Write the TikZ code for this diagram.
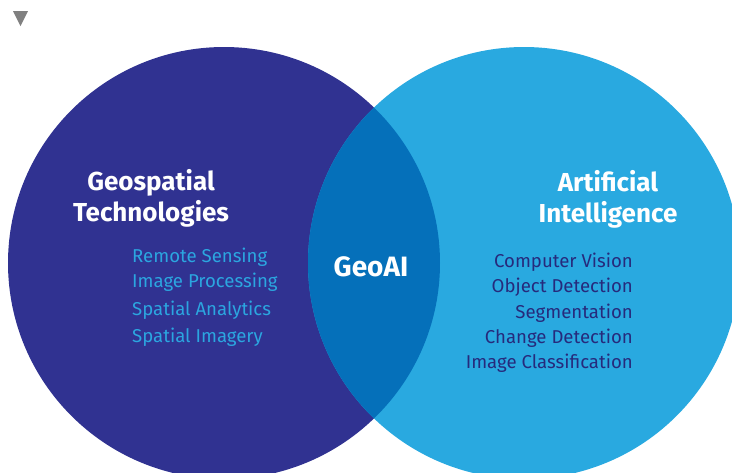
\documentclass[tikz,border=0pt]{standalone}
\usepackage{fontspec}
\setmainfont{Fira Sans}
\definecolor{navyc}{HTML}{303291}
\definecolor{skyc}{HTML}{29A9E0}
\definecolor{lensc}{HTML}{0570BA}
\definecolor{darkitem}{HTML}{262A7C}
\definecolor{lightitem}{HTML}{2BA6E0}
\definecolor{triGray}{HTML}{808080}
\begin{document}
\begin{tikzpicture}[x=1pt,y=-1pt,
  title/.style={text=white,font=\fontsize{26}{31}\selectfont\bfseries,align=center,inner sep=0},
  leftitem/.style={text=lightitem,font=\fontsize{18.6}{20}\selectfont,anchor=west,inner sep=0},
  rightitem/.style={text=darkitem,font=\fontsize{18.6}{20}\selectfont,anchor=east,inner sep=0}]
\useasboundingbox (0,0) rectangle (732,472);
\clip (0,0) rectangle (732,472);
\fill[triGray] (13,11) -- (28,11) -- (20.5,26) -- cycle;
\fill[navyc] (224,263) circle[radius=216];
\fill[skyc] (524,263) circle[radius=216];
\begin{scope}
  \clip (224,263) circle[radius=216];
  \fill[lensc] (524,263) circle[radius=216];
\end{scope}
\node[title] (geo) at (151,198) {Geospatial\\Technologies};
\node[title] (ai) at (608,199) {Artificial\\Intelligence};
\node[title,font=\fontsize{28}{31}\selectfont\bfseries] (geoai) at (371,267) {GeoAI};
\node[leftitem] (l1) at (132,257) {Remote Sensing};
\node[leftitem] (l2) at (132,282) {Image Processing};
\node[leftitem] (l3) at (132,310) {Spatial Analytics};
\node[leftitem] (l4) at (132,337) {Spatial Imagery};
\node[rightitem] (r1) at (633,262) {Computer Vision};
\node[rightitem] (r2) at (633,287) {Object Detection};
\node[rightitem] (r3) at (633,313) {Segmentation};
\node[rightitem] (r4) at (633,338) {Change Detection};
\node[rightitem] (r5) at (633,363) {Image Classification};
\end{tikzpicture}
\end{document}
